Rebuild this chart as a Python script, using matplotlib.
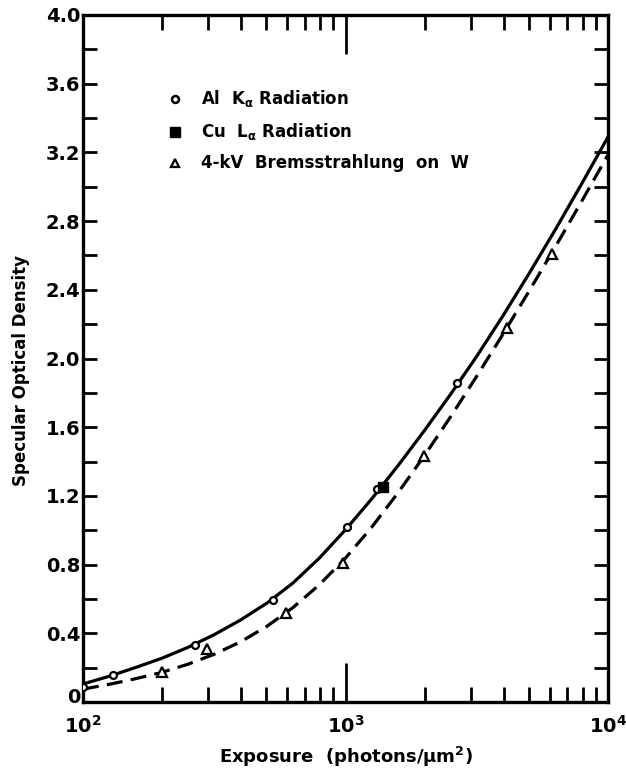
import numpy as np
import matplotlib
matplotlib.use("Agg")
import matplotlib.pyplot as plt
from matplotlib.lines import Line2D
from matplotlib.transforms import ScaledTranslation

plt.rcParams['font.family'] = ['DejaVu Sans']
plt.rcParams['font.weight'] = 'bold'
plt.rcParams['mathtext.fontset'] = 'dejavusans'

# ---- data ----
al_x = [100, 130, 267, 529, 1014, 1318, 2662]
al_y = [0.09, 0.157, 0.33, 0.594, 1.02, 1.24, 1.857]

cu_x = [1390]
cu_y = [1.25]

w_x = [200, 296, 593, 980, 1991, 4120, 6120]
w_y = [0.175, 0.31, 0.52, 0.81, 1.43, 2.18, 2.61]

# curve readings (solid = Al/Cu fit, dashed = W fit)
curve_x = [100, 126, 158, 200, 251, 316, 398, 501, 631, 794, 1000,
           1259, 1585, 1995, 2512, 3162, 3981, 5012, 6310, 7943, 10000]
solid_y = [0.105, 0.150, 0.200, 0.255, 0.318, 0.392, 0.477, 0.575, 0.693, 0.837, 1.003,
           1.183, 1.376, 1.579, 1.791, 2.013, 2.249, 2.496, 2.752, 3.018, 3.29]
dash_y = [0.075, 0.103, 0.135, 0.173, 0.220, 0.278, 0.350, 0.440, 0.550, 0.682, 0.838,
          1.018, 1.218, 1.433, 1.660, 1.897, 2.142, 2.394, 2.652, 2.916, 3.186]

y_major = [0.0, 0.4, 0.8, 1.2, 1.6, 2.0, 2.4, 2.8, 3.2, 3.6, 4.0]
y_labels = ['0', '0.4', '0.8', '1.2', '1.6', '2.0', '2.4', '2.8', '3.2', '3.6', '4.0']
x_major = [100, 1000, 10000]
x_labels = [r'$\mathbf{10^{2}}$', r'$\mathbf{10^{3}}$', r'$\mathbf{10^{4}}$']

legend_labels = [r'Al  K$_{\mathbf{\alpha}}$ Radiation',
                 r'Cu  L$_{\mathbf{\alpha}}$ Radiation',
                 '4-kV  Bremsstrahlung  on  W']

# ---- figure ----
fig = plt.figure(figsize=(6.26, 7.78), dpi=100)
ax = fig.add_axes([83/626, 1-702/778, 525/626, 687/778])

ax.plot(curve_x, solid_y, '-', color='black', lw=2.3, zorder=2)
ax.plot(curve_x, dash_y, '--', color='black', lw=2.3, dashes=(5, 2.6), zorder=2)

ax.plot(al_x, al_y, 'o', ms=5, mfc='white', mec='black', mew=1.6, zorder=3)
ax.plot(cu_x, cu_y, 's', ms=7, mfc='black', mec='black', zorder=3)
ax.plot(w_x, w_y, '^', ms=6.5, mfc='white', mec='black', mew=1.6, zorder=3)

ax.set_xscale('log')
ax.set_xlim(100, 10000)
ax.set_ylim(0, 4.0)

ax.set_yticks(y_major)
ax.set_yticklabels(y_labels)
ax.set_yticks(np.arange(0.2, 4.0, 0.4), minor=True)
ax.set_xticks(x_major)
ax.set_xticklabels(x_labels)
minor_x = [m * d for d in (100, 1000) for m in range(2, 10)]
ax.set_xticks(minor_x, minor=True)
ax.xaxis.set_minor_formatter(matplotlib.ticker.NullFormatter())

ax.tick_params(axis='y', which='both', direction='in', left=True, right=True,
               length=10, width=2, labelsize=14, pad=2)
ax.tick_params(axis='x', which='major', direction='in', top=True, bottom=True,
               length=28, width=2, labelsize=14, pad=9)
ax.tick_params(axis='x', which='minor', direction='in', top=True, bottom=True,
               length=11, width=2)
for lab in ax.get_yticklabels() + ax.get_xticklabels():
    lab.set_fontweight('bold')

# lift the "0" label slightly, as in the reference
zero_lab = ax.get_yticklabels()[0]
zero_lab.set_transform(zero_lab.get_transform() + ScaledTranslation(0, 5/72, fig.dpi_scale_trans))

for s in ax.spines.values():
    s.set_linewidth(2.4)

ax.set_xlabel(r'Exposure  (photons/$\mathbf{\mu}$m$^{\mathbf{2}}$)', fontsize=13,
              fontweight='bold', labelpad=6)
ax.set_ylabel('Specular Optical Density', fontsize=12, fontweight='bold')
ax.yaxis.set_label_coords(-0.100, 0.483)

handles = [Line2D([], [], ls='none', marker='o', ms=5, mfc='white', mec='black', mew=1.8),
           Line2D([], [], ls='none', marker='s', ms=7, mfc='black', mec='black'),
           Line2D([], [], ls='none', marker='^', ms=6, mfc='white', mec='black', mew=1.6)]
leg = ax.legend(handles, legend_labels, loc='upper left', bbox_to_anchor=(0.13, 0.915),
                frameon=False, handlelength=1.0, handletextpad=1.1, labelspacing=0.72,
                prop={'size': 12, 'weight': 'bold'})

fig.savefig('out.png', dpi=100)
